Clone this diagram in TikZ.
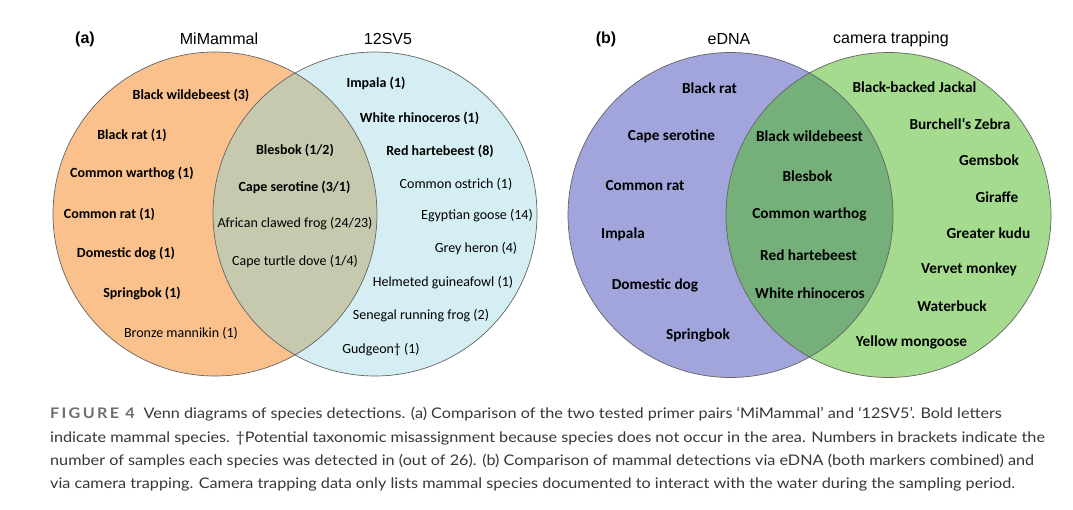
\documentclass[tikz,border=0pt]{standalone}
\usepackage{fontspec}
\setmainfont{Carlito}
\newfontfamily\arialf{Liberation Sans}
\newfontfamily\latof{Lato}
\definecolor{orangeA}{RGB}{250,193,140}
\definecolor{blueA}{RGB}{212,238,243}
\definecolor{ovA}{RGB}{199,201,174}
\definecolor{purpB}{RGB}{162,164,220}
\definecolor{greenB}{RGB}{165,219,142}
\definecolor{ovB}{RGB}{117,175,121}
\definecolor{edge}{RGB}{100,100,100}
\definecolor{capgrey}{RGB}{110,110,110}
\definecolor{captext}{RGB}{55,55,55}
\newcommand{\capx}[1]{\scalebox{1.11}[1]{#1}}
\begin{document}
\begin{tikzpicture}[x=1pt,y=-1pt,
  lb/.style={font=\fontsize{14}{16}\selectfont\bfseries, inner sep=0pt, text=black},
  ln/.style={font=\fontsize{14}{16}\selectfont, inner sep=0pt, text=black},
  lbb/.style={font=\fontsize{15.3}{17}\selectfont\bfseries, inner sep=0pt, text=black},
  ttl/.style={font=\arialf\fontsize{16}{18}\selectfont, inner sep=0pt},
  pnl/.style={font=\arialf\fontsize{16}{18}\selectfont\bfseries, inner sep=0pt},
  capline/.style={font=\latof\fontsize{14.6}{17}\selectfont, text=captext, inner sep=0pt, anchor=base west},
  ring/.style={draw=edge, line width=0.7pt}]
\useasboundingbox (0,0) rectangle (1073,509);
\fill[white] (0,0) rectangle (1073,509);
% ---------- panel (a)
\fill[orangeA] (215,214) circle[radius=162pt];
\fill[blueA] (375,214) circle[radius=162pt];
\begin{scope}
  \clip (215,214) circle[radius=162pt];
  \fill[ovA] (375,214) circle[radius=162pt];
\end{scope}
\draw[ring] (215,214) circle[radius=162pt];
\draw[ring] (375,214) circle[radius=162pt];
\node[pnl] (pa) at (85,39) {(a)};
\node[ttl] (tmi) at (219,39) {MiMammal};
\node[ttl] (t12) at (388,39) {12SV5};
% left only
\node[lb] (a1) at (191,95) {Black wildebeest (3)};
\node[lb] (a2) at (132,135) {Black rat (1)};
\node[lb] (a3) at (132,173) {Common warthog (1)};
\node[lb] (a4) at (109.5,214) {Common rat (1)};
\node[lb] (a5) at (126,253) {Domestic dog (1)};
\node[lb] (a6) at (142,293) {Springbok (1)};
\node[ln] (a7) at (181,333) {Bronze mannikin (1)};
% overlap
\node[lb] (o1) at (295,150) {Blesbok (1/2)};
\node[lb] (o2) at (294.5,187) {Cape serotine (3/1)};
\node[ln] (o3) at (295,224) {African clawed frog (24/23)};
\node[ln] (o4) at (295,262) {Cape turtle dove (1/4)};
% right only
\node[lb] (b1) at (376,83) {Impala (1)};
\node[lb] (b2) at (419.5,118) {White rhinoceros (1)};
\node[lb] (b3) at (440,151) {Red hartebeest (8)};
\node[ln] (b4) at (456,184) {Common ostrich (1)};
\node[ln] (b5) at (477,216) {Egyptian goose (14)};
\node[ln] (b6) at (476,249) {Grey heron (4)};
\node[ln] (b7) at (443,283) {Helmeted guineafowl (1)};
\node[ln] (b8) at (421,316) {Senegal running frog (2)};
\node[ln] (b9) at (381,350) {Gudgeon† (1)};
% ---------- panel (b)
\fill[purpB] (730.5,215) circle[radius=162.5pt];
\fill[greenB] (888.5,215) circle[radius=162.5pt];
\begin{scope}
  \clip (730.5,215) circle[radius=162.5pt];
  \fill[ovB] (888.5,215) circle[radius=162.5pt];
\end{scope}
\draw[ring] (730.5,215) circle[radius=162.5pt];
\draw[ring] (888.5,215) circle[radius=162.5pt];
\node[pnl] (pb) at (606,39) {(b)};
\node[ttl] (ted) at (729,39) {eDNA};
\node[ttl] (tct) at (891,39) {camera trapping};
\node[lbb] (c1) at (709.5,88) {Black rat};
\node[lbb] (c2) at (671.5,136) {Cape serotine};
\node[lbb] (c3) at (645,186) {Common rat};
\node[lbb] (c4) at (623,234) {Impala};
\node[lbb] (c5) at (655,285) {Domestic dog};
\node[lbb] (c6) at (698,335) {Springbok};
\node[lbb] (d1) at (809.5,136) {Black wildebeest};
\node[lbb] (d2) at (807.5,176) {Blesbok};
\node[lbb] (d3) at (809.5,214) {Common warthog};
\node[lbb] (d4) at (808.5,255) {Red hartebeest};
\node[lbb] (d5) at (810,293) {White rhinoceros};
\node[lbb] (e1) at (914.5,87) {Black-backed Jackal};
\node[lbb] (e2) at (960,124) {Burchell‘s Zebra};
\node[lbb] (e3) at (989,160) {Gemsbok};
\node[lbb] (e4) at (997,197) {Giraffe};
\node[lbb] (e5) at (988.5,233) {Greater kudu};
\node[lbb] (e6) at (969,269) {Vervet monkey};
\node[lbb] (e7) at (952,306) {Waterbuck};
\node[lbb] (e8) at (911.5,342) {Yellow mongoose};
% ---------- caption
\node[capline] (cap1) at (50,418) {\capx{{\color{capgrey}\bfseries\addfontfeatures{LetterSpace=14}FIGURE 4}\hspace{8pt}Venn diagrams of species detections. (a) Comparison of the two tested primer pairs ‘MiMammal’ and ‘12SV5’. Bold letters}};
\node[capline] (cap2) at (50,442) {\capx{indicate mammal species. †Potential taxonomic misassignment because species does not occur in the area. Numbers in brackets indicate the}};
\node[capline] (cap3) at (50,465) {\capx{number of samples each species was detected in (out of 26). (b) Comparison of mammal detections via eDNA (both markers combined) and}};
\node[capline] (cap4) at (50,488) {\capx{via camera trapping. Camera trapping data only lists mammal species documented to interact with the water during the sampling period.}};
\end{tikzpicture}
\end{document}
